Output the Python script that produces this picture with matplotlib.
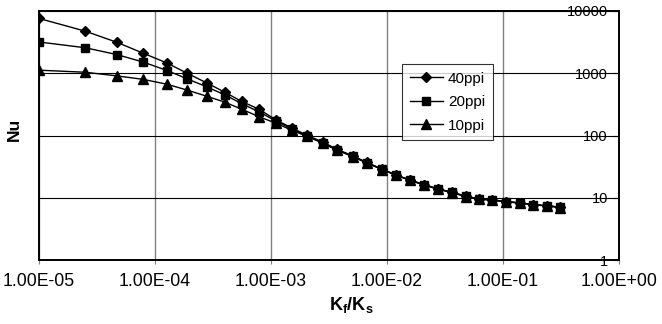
import matplotlib
matplotlib.use("Agg")
import matplotlib.pyplot as plt
from matplotlib.ticker import FixedLocator, FuncFormatter, NullLocator

plt.rcParams['font.family'] = ['Liberation Sans', 'DejaVu Sans']
plt.rcParams['mathtext.fontset'] = 'custom'
plt.rcParams['mathtext.rm'] = 'Liberation Sans'
plt.rcParams['mathtext.bf'] = 'Liberation Sans:bold'

# Kf/Ks values
kf_ks = [1.0e-5, 2.5e-5, 4.7e-5, 7.9e-5, 1.27e-4, 1.89e-4, 2.8e-4, 4.0e-4,
         5.6e-4, 7.9e-4, 1.1e-3, 1.52e-3, 2.04e-3, 2.8e-3, 3.7e-3, 5.1e-3,
         6.7e-3, 9.1e-3, 1.2e-2, 1.58e-2, 2.08e-2, 2.75e-2, 3.63e-2, 4.8e-2,
         6.2e-2, 8.1e-2, 1.07e-1, 1.40e-1, 1.82e-1, 2.4e-1, 3.1e-1]

nu_40ppi = [7590, 4750, 3140, 2100, 1460, 1000, 698, 495, 352, 264, 178, 132,
            101, 78.3, 60, 46.9, 36.9, 28.8, 23.2, 19.3, 16.3, 13.9, 12.3,
            10.6, 9.6, 9.27, 8.69, 8.28, 7.76, 7.48, 7.04]
nu_20ppi = [3180, 2570, 1995, 1514, 1107, 815, 604, 449, 324, 240, 171, 126.5,
            98, 76.6, 59.3, 46.4, 36.6, 28.6, 23.1, 19.2, 16.2, 13.8, 12.2,
            10.5, 9.55, 9.2, 8.65, 8.25, 7.73, 7.45, 7.0]
nu_10ppi = [1120, 1038, 907, 798, 666, 537, 427, 343, 264, 200, 158, 121,
            97, 75, 58, 45.5, 36, 28.3, 22.9, 19.0, 16.0, 13.7, 12.1,
            10.4, 9.5, 9.1, 8.6, 8.2, 7.7, 7.4, 6.95]

series_labels = ['40ppi', '20ppi', '10ppi']
x_ticks = [1e-5, 1e-4, 1e-3, 1e-2, 1e-1, 1e0]
y_ticks = [1, 10, 100, 1000, 10000]

fig = plt.figure(figsize=(6.62, 3.24), dpi=100)
ax = fig.add_axes([39/662, 1-260/324, 580/662, 249/324])

ax.plot(kf_ks, nu_40ppi, color='black', lw=1.0, marker='D', ms=5.0, label=series_labels[0], zorder=5)
ax.plot(kf_ks, nu_20ppi, color='black', lw=1.0, marker='s', ms=5.8, label=series_labels[1], zorder=5)
ax.plot(kf_ks, nu_10ppi, color='black', lw=1.0, marker='^', ms=6.5, label=series_labels[2], zorder=5)

ax.set_xscale('log')
ax.set_yscale('log')
ax.set_xlim(x_ticks[0], x_ticks[-1])
ax.set_ylim(y_ticks[0], y_ticks[-1])

ax.xaxis.set_major_locator(FixedLocator(x_ticks))
ax.xaxis.set_minor_locator(NullLocator())
ax.xaxis.set_major_formatter(FuncFormatter(lambda v, p: f"{v:.2E}"))
ax.yaxis.set_major_locator(FixedLocator(y_ticks))
ax.yaxis.set_minor_locator(NullLocator())
ax.yaxis.set_major_formatter(FuncFormatter(lambda v, p: f"{int(round(v))}"))

ax.grid(True, axis='x', color='#808080', lw=1.0)
ax.grid(True, axis='y', color='black', lw=0.8)
ax.set_axisbelow(True)

ax.yaxis.tick_right()
ax.tick_params(axis='y', direction='in', length=4, pad=-8, labelsize=10.5, colors='black')
for lab in ax.get_yticklabels():
    lab.set_horizontalalignment('right')
ax.tick_params(axis='x', direction='out', length=3, color='#808080', labelsize=12.7, pad=6)

for side in ['left', 'bottom', 'right', 'top']:
    ax.spines[side].set_linewidth(1.4)
    ax.spines[side].set_color('black')

leg = ax.legend(loc='upper left', bbox_to_anchor=((402-39)/580, (260-64)/249),
                fancybox=False, frameon=True, edgecolor='black', fontsize=11,
                handlelength=2.2, labelspacing=0.62, borderpad=0.5, handletextpad=0.3,
                borderaxespad=0)
leg.get_frame().set_linewidth(0.8)

fig.text(14/662, 1-129/324, 'Nu', rotation=90, ha='center', va='center',
         fontsize=12.5, fontweight='bold')
fig.text(329/662, 1-310/324, r'$\mathbf{K_f/K_s}$', ha='left', va='baseline', fontsize=13)

fig.savefig('out.png', dpi=100)
